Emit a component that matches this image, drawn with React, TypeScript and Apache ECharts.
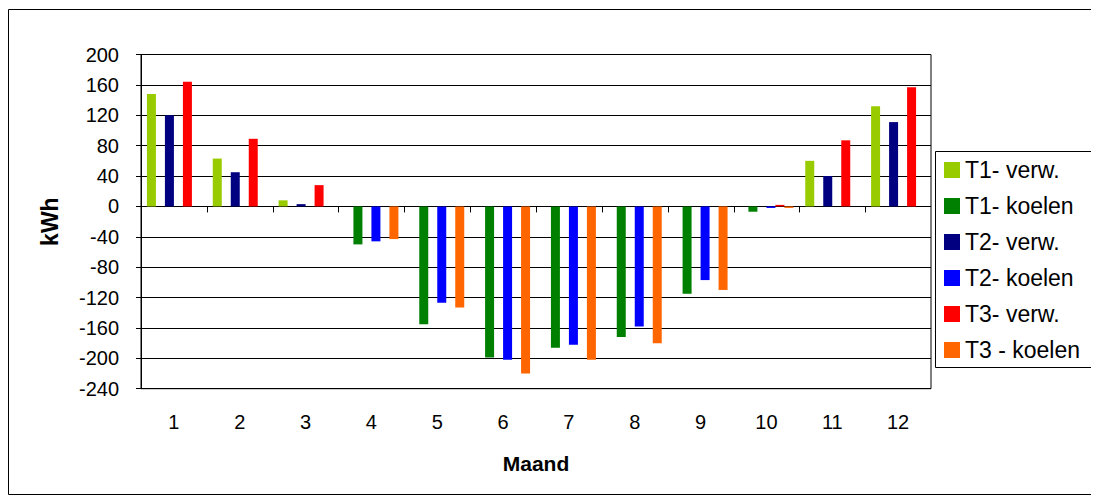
import React, { useEffect, useRef } from "react";
import * as echarts from "echarts";

const months = ["1", "2", "3", "4", "5", "6", "7", "8", "9", "10", "11", "12"];
const seriesNames = ["T1- verw.", "T1- koelen", "T2- verw.", "T2- koelen", "T3- verw.", "T3 - koelen"];
const seriesColors = ["#99CC00", "#008000", "#000080", "#0000FF", "#FF0000", "#FF6600"];
const t1Verw = [148, 63, 8, 0, 0, 0, 0, 0, 0, 0, 60, 132];
const t1Koelen = [0, 0, 0, -50, -155, -199, -186, -172, -115, -7, 0, 0];
const t2Verw = [120, 45, 3, 0, 0, 0, 0, 0, 0, 0, 40, 111];
const t2Koelen = [0, 0, 0, -46, -127, -202, -182, -158, -97, -2, 0, 0];
const t3Verw = [164, 89, 28, 0, 0, 0, 0, 0, 0, 2, 87, 157];
const t3Koelen = [0, 0, 0, -43, -133, -220, -202, -180, -110, -2, 0, 0];
const seriesData = [t1Verw, t1Koelen, t2Verw, t2Koelen, t3Verw, t3Koelen];
const yMin = -240;
const yMax = 200;
const yStep = 40;

const FONT = "'Liberation Sans', Arial, sans-serif";

export default function App() {
  const ref = useRef<HTMLDivElement>(null);
  useEffect(() => {
    if (!ref.current) return;
    const chart = echarts.init(ref.current, null, { renderer: "svg" });
    chart.setOption({
      animation: false,
      backgroundColor: "#ffffff",
      textStyle: { fontFamily: FONT, color: "#000" },
      grid: {
        left: 133,
        top: 46.5,
        right: 168,
        bottom: 106.3,
        show: true,
        borderColor: "#000",
        borderWidth: 1,
        backgroundColor: "transparent",
      },
      legend: {
        orient: "vertical",
        left: 936,
        top: 150.5,
        padding: 0,
        itemWidth: 16,
        itemHeight: 16,
        itemGap: 13,
        icon: "rect",
        data: seriesNames,
        textStyle: { fontFamily: FONT, fontSize: 23, lineHeight: 23, color: "#000" },
      },
      xAxis: {
        type: "category",
        data: months,
        position: "bottom",
        axisLine: { show: false, onZero: false },
        axisTick: { show: false },
        axisLabel: { fontFamily: FONT, fontSize: 20, color: "#000", margin: 23 },
        name: "Maand",
        nameLocation: "middle",
        nameGap: 64,
        nameTextStyle: { fontFamily: FONT, fontSize: 21, fontWeight: "bold", color: "#000" },
      },
      yAxis: {
        type: "value",
        min: yMin,
        max: yMax,
        interval: yStep,
        axisLine: { show: true, onZero: false, lineStyle: { color: "#000", width: 1 } },
        axisTick: { show: true, inside: false, length: 5, lineStyle: { color: "#000", width: 1 } },
        axisLabel: { fontFamily: FONT, fontSize: 20, color: "#000", margin: 22 },
        splitLine: { show: true, lineStyle: { color: "#000", width: 1 } },
        name: "kWh",
        nameLocation: "middle",
        nameGap: 80,
        nameTextStyle: { fontFamily: FONT, fontSize: 23, fontWeight: "bold", color: "#000" },
      },
      graphic: [
        {
          type: "rect",
          shape: { x: 0.5, y: 1.5, width: 1090, height: 485 },
          style: { fill: "none", stroke: "#000", lineWidth: 1 },
          silent: true,
          z: -1,
        },
        {
          type: "rect",
          shape: { x: 927.5, y: 143.5, width: 162, height: 216 },
          style: { fill: "#fff", stroke: "#000", lineWidth: 1 },
          silent: true,
          z: 0,
        },
      ],
      series: [
        ...seriesNames.map((name, i) => ({
          name,
          type: "bar",
          data: seriesData[i],
          itemStyle: { color: seriesColors[i] },
          barGap: "0%",
          barCategoryGap: "18%",
          z: 2,
        })),
        {
          name: "zeroTicks",
          type: "custom",
          silent: true,
          z: 3,
          data: months.slice(1).map((_, i) => [i + 1]),
          encode: { x: 0 },
          renderItem: (params: any, api: any) => {
            const idx = api.value(0);
            const p = api.coord([idx, 0]);
            const w = api.size([1, 0])[0];
            const x = Math.round(p[0] - w / 2) + 0.5;
            return {
              type: "line",
              shape: { x1: x, y1: p[1], x2: x, y2: p[1] + 6 },
              style: { stroke: "#000", lineWidth: 1 },
            };
          },
        },
      ],
    });
    return () => chart.dispose();
  }, []);
  return <div ref={ref} style={{ width: 1091, height: 487 }} />;
}
